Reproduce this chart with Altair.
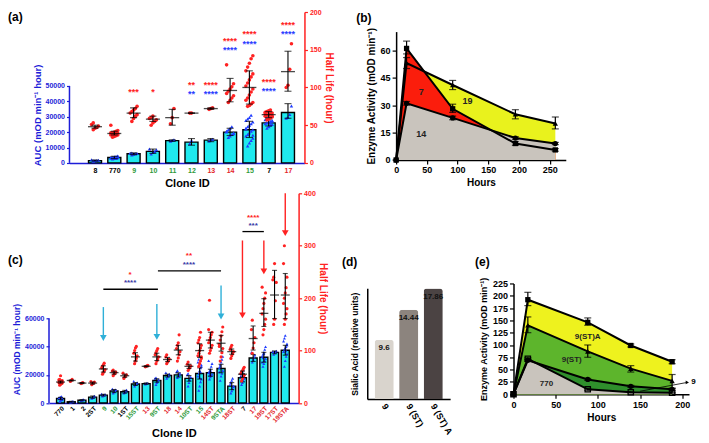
import altair as alt
import pandas as pd

SX, SY = 0.975, 0.98
FONT = "Liberation Sans"
BLUE = "#1d1dd8"
PBLUE = "#1f3cff"
NAVY = "#3a3aa6"
RED = "#ff2222"
LGREEN = "#2e9a3a"
LRED = "#e3262c"
CYAN = "#1fe9ee"
ARROW_CYAN = "#2fb0d8"
COLMAP = {"k": "black", "g": LGREEN, "r": LRED}
STARMAP = {"r": RED, "b": "#2a3cff", "n": NAVY}

# ---------------- (a) data ----------------
cats_a = ["8", "770", "9", "10", "11", "12", "13", "14", "15", "7", "17"]
labcol_a = ["k", "k", "g", "g", "g", "g", "r", "r", "g", "k", "r"]
auc_a = [1500, 3500, 6000, 7500, 14500, 13500, 14800, 20000, 21500, 26000, 32700]
auc_lo_a = [1200, 2800, 5400, 6200, 14000, 11500, 13800, 17800, 16500, 24000, 29000]
auc_hi_a = [1900, 4300, 6500, 9000, 15000, 15800, 15800, 22500, 27000, 28500, 38500]
auc_pts_a = [
    [1200, 1400, 1600, 1800, 2000, 1300],
    [2600, 2900, 3100, 3300, 3500, 3700, 3900, 4100, 4300, 3000, 3400, 3800, 2800, 4500],
    [5200, 5600, 5900, 6100, 6300, 6500],
    [5800, 6800, 7400, 8600, 9000],
    [14000, 14600, 15000],
    [12500, 14500],
    [14200, 15000, 15400],
    [16500, 17500, 18500, 19500, 20500, 21500, 22500, 23500, 19000, 20000],
    [11000, 13000, 14500, 16000, 17500, 18500, 19500, 20500, 21500, 22500, 23500,
     24500, 25500, 26500, 27500, 28500, 29500, 31000, 18000, 22000],
    [22500, 23500, 24500, 25000, 25500, 26000, 26500, 27000, 27500, 28000, 29000, 24000, 26000, 27000],
    [29000, 29500, 31500, 37000],
]
hl_a = [48, 39, 66, 58, 60, 66, 72, 96, 100, 64, 121]
hl_lo_a = [46, 37, 60, 55, 50, 66, 71, 81, 78, 60, 95]
hl_hi_a = [50, 42, 73, 62, 71, 66, 73, 112, 122, 68, 148]
hl_pts_a = [
    [44, 46, 47, 49, 51, 53],
    [34, 35, 36, 37, 37, 38, 38, 39, 39, 40, 40, 41, 42, 43, 50],
    [55, 59, 62, 64, 66, 68, 70, 72, 75],
    [50, 53, 55, 57, 59, 60, 62],
    [52, 60, 72],
    [66, 66],
    [71, 72, 73],
    [80, 83, 86, 89, 92, 95, 98, 101, 105, 130],
    [75, 76, 78, 80, 83, 86, 90, 94, 98, 102, 106, 110, 114, 118, 122, 127, 132, 138, 142],
    [57, 58, 60, 61, 62, 63, 64, 65, 66, 67, 68, 69, 70, 62, 65],
    [100, 103, 124, 158],
]
ast_a_cat = ["9", "10", "12", "12", "13", "13", "14", "14", "15", "15", "7", "7", "17", "17"]
ast_a_txt = ["***", "*", "**", "**", "****", "****", "****", "****", "****", "****", "****", "****", "****", "****"]
ast_a_col = ["r", "r", "r", "b", "r", "b", "r", "b", "r", "b", "r", "b", "r", "b"]
ast_a_y = [94, 94, 103, 91, 103, 91, 162, 149, 171, 158, 107, 95, 183, 171]

# ---------------- (c) data ----------------
cats_c = ["770", "1", "2", "2ST", "9", "10", "1ST", "15ST", "13", "9ST", "18", "14", "10ST",
          "15", "14ST", "9STA", "18ST", "7", "17", "19ST", "17ST", "19STA"]
labcol_c = ["k", "k", "k", "k", "g", "g", "k", "g", "r", "g", "r", "r", "g", "g", "r", "g",
            "r", "k", "r", "r", "r", "r"]
auc_c = [3200, 900, 2000, 4200, 5600, 8500, 8000, 13500, 13800, 16000, 19500, 20000, 17500,
         21000, 21500, 24500, 12000, 18000, 32000, 32500, 36000, 37500]
auc_lo_c = [2400, 600, 1600, 3400, 5000, 7400, 7000, 12500, 13300, 14800, 18500, 18500, 15500,
            17000, 19000, 21500, 9500, 15000, 29500, 29000, 35000, 34000]
auc_hi_c = [4000, 1200, 2400, 5000, 6200, 9600, 9000, 14500, 14300, 17200, 20500, 21500, 19500,
            25000, 24000, 27500, 14500, 21000, 34500, 36000, 37000, 41000]
auc_pts_c = [
    [1000, 1800, 2500, 3000, 3400, 3800, 4200, 4600, 2200, 3600],
    [600, 800, 1000, 1200],
    [1600, 1900, 2200, 2400],
    [3200, 3800, 4400, 5000],
    [4800, 5300, 5700, 6100, 6400],
    [7000, 7800, 8600, 9400, 10000],
    [7000, 7600, 8400, 9200],
    [12000, 13000, 13800, 14500, 15500],
    [13300, 13800, 14200],
    [13000, 14500, 15500, 16500, 17500, 18000],
    [17500, 18500, 19500, 20500, 21500],
    [18000, 19000, 20000, 21000, 22000, 23000],
    [12000, 14500, 16500, 18500, 20000, 21000],
    [9000, 12000, 15000, 17000, 19000, 21000, 23000, 25000, 27000, 29000, 31000, 18000, 22000, 26000],
    [17000, 18500, 19500, 20500, 21500, 22500, 24000, 26000, 28000, 30000, 20000, 23000],
    [16000, 19000, 21000, 23000, 25000, 27000, 29000, 31000, 33000, 22000, 26000],
    [7000, 8500, 10000, 11500, 13000, 14500, 16000, 17500, 12000],
    [13000, 14500, 16000, 17500, 19000, 20500, 22000, 23500, 18000, 21000],
    [29000, 31000, 32500, 34000, 36000],
    [26000, 28000, 30000, 31500, 33000, 34500, 36000, 38000, 40000, 29000, 32000, 35000],
    [34500, 35500, 36000, 37000, 36500],
    [26000, 30000, 33000, 35000, 36500, 38000, 39000, 40000, 42000, 44000, 46000, 48000, 37000, 41000],
]
hl_c = [40, 43, 38, 38, 65, 58, 52, 88, 70, 88, 83, 101, 70, 100, 120, 114, 98, 55, 123, 171, 206, 206]
hl_lo_c = [38, 42, 37, 36, 59, 55, 49, 80, 69, 81, 79, 92, 66, 87, 105, 99, 93, 49, 101, 146, 161, 161]
hl_hi_c = [42, 44, 39, 40, 71, 61, 55, 96, 71, 95, 87, 110, 74, 113, 135, 129, 103, 61, 147, 199, 253, 247]
hl_pts_c = [
    [34, 36, 37, 38, 39, 40, 41, 42, 43, 44, 45, 52, 38, 40],
    [41, 43, 45],
    [37, 38, 39],
    [35, 37, 38, 40, 41],
    [55, 58, 61, 64, 67, 70, 73, 76],
    [52, 55, 57, 59, 61, 63],
    [47, 50, 52, 54, 57],
    [75, 80, 85, 90, 95, 100, 105, 108],
    [69, 70, 71, 72],
    [75, 80, 84, 88, 92, 96, 100, 104],
    [75, 78, 81, 84, 88, 92],
    [80, 86, 92, 98, 104, 110, 115, 130],
    [62, 65, 68, 71, 74, 78],
    [70, 75, 80, 85, 90, 95, 100, 105, 110, 115, 120, 125, 135, 88],
    [95, 100, 105, 110, 115, 120, 125, 130, 135, 140, 196],
    [80, 88, 96, 104, 112, 120, 128, 136, 145, 108],
    [85, 90, 94, 98, 102, 106, 110],
    [42, 46, 50, 53, 56, 59, 62, 65, 68],
    [95, 105, 115, 125, 140, 158],
    [130, 140, 150, 160, 170, 180, 190, 200, 210, 221],
    [150, 160, 195, 230, 235, 240, 266],
    [150, 160, 170, 180, 190, 200, 210, 220, 240, 266, 300],
]
sig_x1 = [4, 9.1, 17]
sig_x2 = [9.1, 15, 19]
sig_y = [217, 252, 327]
ast_c_x = [6.5, 6.5, 12.0, 12.0, 18, 18]
ast_c_txt = ["****", "*", "****", "**", "***", "****"]
ast_c_col = ["n", "r", "n", "r", "n", "r"]
ast_c_y = [229, 245, 264, 280, 338, 353]
arr_i = [4, 9, 15, 17, 19, 21]
arr_top = [183, 189, 224, 310, 310, 400]
arr_head = [124, 126, 165, 167, 251, 324]
arr_col = ["c", "c", "c", "r", "r", "r"]

# ---------------- (b) data ----------------
hours_b = [0, 17, 92, 194, 259]
names_b = ["19", "7", "14"]
vals_b = [[0, 53, 41, 25, 20], [0, 61, 28, 9, 5.5], [0, 31, 23, 12, 9]]
lo_b = [[0, 50, 38.5, 22.5, 17], [0, 58, 26, 8, 4.8], [0, 30, 22, 11.3, 8.4]]
hi_b = [[0, 56, 43.5, 27.5, 23.5], [0, 65, 30.5, 10, 6.2], [0, 32, 24, 12.7, 9.6]]
fills_b = ["#e9f21d", "#fb1d0c", "#c9c4bd"]
shapes_b = ["triangle-up", "square", "circle"]
lab_b = ["19", "7", "14"]
lab_b_x = [116, 41, 41]
lab_b_y = [32, 37, 14]

# ---------------- (d) data ----------------
cats_d = ["9", "9 (ST)", "9 (ST) A"]
vals_d = [9.6, 14.44, 17.86]
cols_d = ["#d9d4cd", "#8c847e", "#4b4343"]

# ---------------- (e) data ----------------
hours_e = [0, 17, 88, 139, 188]
names_e = ["9(ST)A", "9(ST)", "9", "770"]
vals_e = [[0, 192, 146, 99, 66], [0, 140, 87, 52, 27], [0, 69, 30, 16, 10], [0, 72, 10, 4, 3]]
lo_e = [[0, 180, 140, 96, 62], [0, 125, 75, 45, 12], [0, 67, 28, 14, 8], [0, 70, 8, 3, 2]]
hi_e = [[0, 207, 155, 102, 70], [0, 157, 100, 58, 40], [0, 71, 32, 18, 12], [0, 74, 12, 5, 4]]
fills_e = ["#eef21e", "#5db52c", "#2f8f2c", "#c9c4bd"]
shapes_e = ["square", "triangle-up", "circle", "square"]
lab_e = ["9(ST)A", "9(ST)", "770"]
lab_e_x = [88, 69, 39]
lab_e_y = [117, 70, 20]


def cat_axis(cats, cols, angle, fs, pad):
    expr = "[" + ",".join("'" + c + "'" for c in cats) + "][datum.value]"
    conds = [{"test": "datum.value == %d" % k, "value": COLMAP[c]}
             for k, c in enumerate(cols) if c != "k"]
    return alt.Axis(values=list(range(len(cats))), labelExpr=expr,
                    labelColor={"condition": conds, "value": "black"},
                    labelAngle=angle, labelFontSize=fs, labelPadding=pad,
                    labelOverlap=False, labelFlush=False, ticks=False,
                    domainColor=BLUE, domainWidth=1.5, title="Clone ID",
                    titleFontSize=11, titlePadding=4, grid=False)


def panel_label(txt, px, py):
    return alt.Chart(pd.DataFrame({"t": [txt]})).mark_text(
        fontSize=12, fontWeight="bold", align="center", baseline="middle"
    ).encode(text="t:N", x=alt.value(px), y=alt.value(py))


def two_scale_panel(p):
    n = len(p["cats"])
    base = pd.DataFrame({"i": list(range(n)), "auc": p["auc"], "lo": p["lo"], "hi": p["hi"],
                         "hl": p["hl"], "hlo": p["hlo"], "hhi": p["hhi"]})
    bp = pd.DataFrame([{"i": k, "v": v} for k, vs in enumerate(p["pts"]) for v in vs])
    rp = pd.DataFrame([{"i": k, "v": v} for k, vs in enumerate(p["hpts"]) for v in vs])
    xax = cat_axis(p["cats"], p["labcol"], p["angle"], p["lfs"], p["lpad"])
    xsc = alt.Scale(domain=p["xdom"], nice=False, zero=False)

    def X(f):
        return alt.X(f, type="quantitative", scale=xsc, axis=xax)

    bax = alt.Axis(values=p["bticks"], format="d", domain=False, tickColor=BLUE, tickSize=3,
                   labelColor=BLUE, labelFontSize=7, title="AUC (mOD min\u207b\u00b9 hour)",
                   titleColor=BLUE, titleFontSize=p["btfs"], titleY=p["btY"], titlePadding=3,
                   grid=False)
    bsc = alt.Scale(domain=[0, p["bmax"]], nice=False)

    def YB(f):
        return alt.Y(f, type="quantitative", scale=bsc, axis=bax)

    rax = alt.Axis(orient="right", values=p["rticks"], domainColor=RED, tickColor=RED, tickSize=3,
                   labelColor=RED, labelFontSize=7, title="Half Life (hour)", titleColor=RED,
                   titleFontSize=10, titlePadding=2, grid=False)
    rsc = alt.Scale(domain=[0, p["rmax"]], nice=False)

    def YR(f):
        return alt.Y(f, type="quantitative", scale=rsc, axis=rax)

    jit = f"datum.i + ((datum.k % 5) - 2) * {p['jit']}"

    blue = alt.layer(
        alt.Chart(base).mark_bar(size=p["bar_w"], color=CYAN, stroke="black", strokeWidth=1.4)
        .encode(x=X("i"), y=YB("auc")),
        alt.Chart(bp).transform_window(k="row_number()", groupby=["i"]).transform_calculate(xj=jit)
        .mark_point(shape="triangle-up", filled=True, color=PBLUE, size=p["psize"], opacity=1)
        .encode(x=X("xj"), y=YB("v")),
        alt.Chart(base).mark_rule(color="black", strokeWidth=1.1).encode(x=X("i"), y=YB("lo"), y2="hi"),
        alt.Chart(base).mark_tick(orient="horizontal", size=p["cap_w"], thickness=1.1, color="black")
        .encode(x=X("i"), y=YB("lo")),
        alt.Chart(base).mark_tick(orient="horizontal", size=p["cap_w"], thickness=1.1, color="black")
        .encode(x=X("i"), y=YB("hi")),
        alt.Chart(pd.DataFrame({"a0": [0], "a1": [p["baxis_top"]]})).mark_rule(color=BLUE, strokeWidth=1.5)
        .encode(x=alt.value(0), y=YB("a0"), y2="a1"),
        panel_label(p["plabel"], p["plx"], p["ply"]),
    )
    stars = pd.DataFrame({"x": p["star_x"], "y": p["star_y"], "t": p["star_t"],
                          "c": [STARMAP[c] for c in p["star_c"]]})
    red_layers = [
        alt.Chart(rp).transform_window(k="row_number()", groupby=["i"]).transform_calculate(xj=jit)
        .mark_circle(color=RED, size=p["rsize"], opacity=1).encode(x=X("xj"), y=YR("v")),
        alt.Chart(base).mark_rule(color="black", strokeWidth=1.1).encode(x=X("i"), y=YR("hlo"), y2="hhi"),
        alt.Chart(base).mark_tick(orient="horizontal", size=p["cap_w"], thickness=1.1, color="black")
        .encode(x=X("i"), y=YR("hlo")),
        alt.Chart(base).mark_tick(orient="horizontal", size=p["cap_w"], thickness=1.1, color="black")
        .encode(x=X("i"), y=YR("hhi")),
        alt.Chart(base).mark_tick(orient="horizontal", size=p["mean_w"], thickness=1.3, color="black")
        .encode(x=X("i"), y=YR("hl")),
        alt.Chart(stars).mark_text(fontSize=p["sfs"], fontWeight="bold", baseline="middle")
        .encode(x=X("x"), y=YR("y"), text="t:N", color=alt.Color("c:N", scale=None)),
    ]
    if p.get("extra"):
        red_layers += p["extra"](X, YR)
    red = alt.layer(*red_layers)
    return alt.layer(blue, red).resolve_scale(y="independent").properties(width=p["W"], height=p["H"])


def c_extra(X, YR):
    sig = pd.DataFrame({"x1": sig_x1, "x2": sig_x2, "y": sig_y})
    arr = pd.DataFrame({"i": arr_i, "top": arr_top, "head": arr_head,
                        "c": [ARROW_CYAN if c == "c" else RED for c in arr_col]})
    return [
        alt.Chart(sig).mark_rule(color="black", strokeWidth=1.3).encode(x=X("x1"), x2="x2", y=YR("y")),
        alt.Chart(arr).mark_rule(strokeWidth=1.4).encode(x=X("i"), y=YR("top"), y2="head",
                                                          color=alt.Color("c:N", scale=None)),
        alt.Chart(arr).mark_point(shape="triangle-down", filled=True, size=45, opacity=1)
        .encode(x=X("i"), y=YR("head"), color=alt.Color("c:N", scale=None)),
    ]


pa = two_scale_panel(dict(
    cats=cats_a, labcol=labcol_a, auc=auc_a, lo=auc_lo_a, hi=auc_hi_a, pts=auc_pts_a,
    hl=hl_a, hlo=hl_lo_a, hhi=hl_hi_a, hpts=hl_pts_a, angle=0, lfs=7, lpad=4,
    xdom=[-1.064, 10.595], W=241 * SX, H=154 * SY, bmax=98000,
    bticks=[0, 10000, 20000, 30000, 40000, 50000], baxis_top=50000, rmax=200,
    rticks=[0, 50, 100, 150, 200], btfs=9.5, btY=105 * SY, jit=0.09, bar_w=13, psize=12,
    rsize=13, cap_w=7, mean_w=14, sfs=9,
    star_x=[cats_a.index(c) for c in ast_a_cat], star_y=ast_a_y, star_t=ast_a_txt, star_c=ast_a_col,
    plabel="(a)", plx=-55.5 * SX, ply=5 * SY,
))

pc = two_scale_panel(dict(
    cats=cats_c, labcol=labcol_c, auc=auc_c, lo=auc_lo_c, hi=auc_hi_c, pts=auc_pts_c,
    hl=hl_c, hlo=hl_lo_c, hhi=hl_hi_c, hpts=hl_pts_c, angle=-45, lfs=6.5, lpad=2,
    xdom=[-0.612, 21.78], W=256 * SX, H=214 * SY, bmax=149000,
    bticks=[0, 20000, 40000, 60000], baxis_top=60000, rmax=400,
    rticks=[0, 100, 200, 300, 400], btfs=8.5, btY=159 * SY, jit=0.08, bar_w=8, psize=9,
    rsize=10, cap_w=5, mean_w=9, sfs=8,
    star_x=ast_c_x, star_y=ast_c_y, star_t=ast_c_txt, star_c=ast_c_col,
    plabel="(c)", plx=-34.5 * SX, ply=68 * SY, extra=c_extra,
))


def line_panel(hours, names, vals, los, his, fills, shapes, open_last, xdom, ydom, xvals, yvals,
               W, H, ytitle, ytfs, labs, lab_x, lab_y, lab_fs, plabel, plx, ply, extra=None):
    rows = []
    for nm, vs, ls, hs in zip(names, vals, los, his):
        for h, v, lo, hi in zip(hours, vs, ls, hs):
            rows.append({"s": nm, "h": h, "v": v, "lo": lo, "hi": hi})
    df = pd.DataFrame(rows)
    xax = alt.Axis(values=xvals, title="Hours", titleFontSize=10, labelFontSize=9,
                   labelFlush=False, titlePadding=3, grid=False)
    yax = alt.Axis(values=yvals, title=ytitle, titleFontSize=ytfs, labelFontSize=9,
                   titlePadding=4, grid=False)
    xsc = alt.Scale(domain=xdom, nice=False)
    ysc = alt.Scale(domain=ydom, nice=False)

    def X(f):
        return alt.X(f, type="quantitative", scale=xsc, axis=xax)

    def Y(f):
        return alt.Y(f, type="quantitative", scale=ysc, axis=yax)

    layers = []
    for nm, fc in zip(names, fills):
        layers.append(alt.Chart(df).transform_filter(alt.datum.s == nm)
                      .mark_area(color=fc, opacity=1).encode(x=X("h"), y=Y("v")))
    layers.append(alt.Chart(df).mark_line(color="black", strokeWidth=2)
                  .encode(x=X("h"), y=Y("v"), detail="s:N"))
    err = alt.Chart(df).transform_filter("datum.hi > datum.lo")
    layers.append(err.mark_rule(color="black", strokeWidth=1.2).encode(x=X("h"), y=Y("lo"), y2="hi"))
    layers.append(err.mark_tick(orient="horizontal", size=7, thickness=1.2, color="black")
                  .encode(x=X("h"), y=Y("lo")))
    layers.append(err.mark_tick(orient="horizontal", size=7, thickness=1.2, color="black")
                  .encode(x=X("h"), y=Y("hi")))
    for k, (nm, sh) in enumerate(zip(names, shapes)):
        is_open = open_last and k == len(names) - 1
        layers.append(alt.Chart(df).transform_filter(alt.datum.s == nm)
                      .mark_point(shape=sh, filled=not is_open, color="black", size=28,
                                  strokeWidth=1.3, opacity=1)
                      .encode(x=X("h"), y=Y("v")))
    ldf = pd.DataFrame({"t": labs, "x": lab_x, "y": lab_y})
    layers.append(alt.Chart(ldf).mark_text(fontSize=lab_fs, fontWeight="bold", color="#222222")
                  .encode(x=X("x"), y=Y("y"), text="t:N"))
    if extra:
        layers += extra(X, Y)
    layers.append(panel_label(plabel, plx, ply))
    return alt.layer(*layers).properties(width=W, height=H)


def e_extra(X, Y):
    a = pd.DataFrame({"x1": [150], "y1": [6], "x2": [206], "y2": [24], "t": ["9"]})
    return [
        alt.Chart(a).mark_rule(color="black", strokeWidth=0.8).encode(x=X("x1"), y=Y("y1"), x2="x2", y2="y2"),
        alt.Chart(a).mark_point(shape="triangle-right", filled=True, color="black", size=14, opacity=1)
        .encode(x=X("x2"), y=Y("y2")),
        alt.Chart(a).mark_text(align="left", dx=4, fontSize=8, fontWeight="bold")
        .encode(x=X("x2"), y=Y("y2"), text="t:N"),
    ]


pb = line_panel(hours_b, names_b, vals_b, lo_b, hi_b, fills_b, shapes_b, False,
                [0, 276], [0, 70.2], [0, 50, 100, 150, 200, 250], [0, 15, 30, 45, 60],
                174 * SX, 131 * SY, "Enzyme Activity (mOD min\u207b\u00b9)", 10,
                lab_b, lab_b_x, lab_b_y, 9, "(b)", -33 * SX, -14 * SY)

pe = line_panel(hours_e, names_e, vals_e, lo_e, hi_e, fills_e, shapes_e, True,
                [0, 208], [0, 225], [0, 50, 100, 150, 200], list(range(0, 226, 25)),
                180 * SX, 113 * SY, "Enzyme Activity (mOD min\u207b\u00b9)", 9,
                lab_e, lab_e_x, lab_e_y, 8, "(e)", -32 * SX, -22 * SY, extra=e_extra)

dd = pd.DataFrame({"cat": cats_d, "v": vals_d, "col": cols_d, "lab": [str(v) for v in vals_d]})
xd = alt.X("cat:N", sort=cats_d, scale=alt.Scale(paddingInner=0.22, paddingOuter=0.3),
           axis=alt.Axis(title=None, labelAngle=60, labelFontSize=9, ticks=False, labelPadding=5))
yd = alt.Y("v:Q", scale=alt.Scale(domain=[0, 17.9], nice=False),
           axis=alt.Axis(labels=False, ticks=False, title="Sialic Acid (relative units)",
                         titleFontSize=8.5, titlePadding=8, grid=False))
pdd = alt.layer(
    alt.Chart(dd).mark_bar(cornerRadiusTopLeft=3, cornerRadiusTopRight=3)
    .encode(x=xd, y=yd, color=alt.Color("col:N", scale=None)),
    alt.Chart(dd).mark_text(baseline="top", dy=4, fontSize=8, fontWeight="bold", color="#111111")
    .encode(x=xd, y=yd, text="lab:N"),
    panel_label("(d)", -18 * SX, -27 * SY),
).properties(width=85 * SX, height=113 * SY)


def spacer(w, h):
    return alt.Chart(pd.DataFrame({"z": [0]})).mark_point(opacity=0).encode(
        x=alt.X("z:Q", axis=None), y=alt.Y("z:Q", axis=None)).properties(width=w, height=h)


# With "flush" bounds a nested concat counts as zero size, so the spacing
# that follows a nested block is the full offset to the next block.
row1 = alt.hconcat(
    spacer(1, 1),
    alt.hconcat(pa, alt.vconcat(spacer(1, 1), pb, spacing=20 * SY - 1, bounds="flush"),
                spacing=94 * SX, bounds="flush"),
    spacing=21 * SX - 1, bounds="flush")
row2 = alt.hconcat(
    pc,
    alt.hconcat(alt.vconcat(spacer(1, 1), pdd, spacing=97 * SY - 1, bounds="flush"),
                alt.vconcat(spacer(1, 1), pe, spacing=92 * SY - 1, bounds="flush"),
                spacing=150 * SX, bounds="flush"),
    spacing=70 * SX, bounds="flush")

chart = alt.vconcat(row1, row2, spacing=185 * SY, bounds="flush").properties(padding=0)
chart = chart.configure(font=FONT).configure_view(stroke=None).configure_axis(
    labelFont=FONT, titleFont=FONT, labelFontWeight="bold", titleFontWeight="bold",
    domainColor="black", domainWidth=1.5, tickColor="black", tickWidth=1.2, tickSize=4,
    grid=False, labelColor="black", titleColor="black").configure_text(font=FONT)

chart.save("out.html", embed_options={"renderer": "svg", "actions": False})
